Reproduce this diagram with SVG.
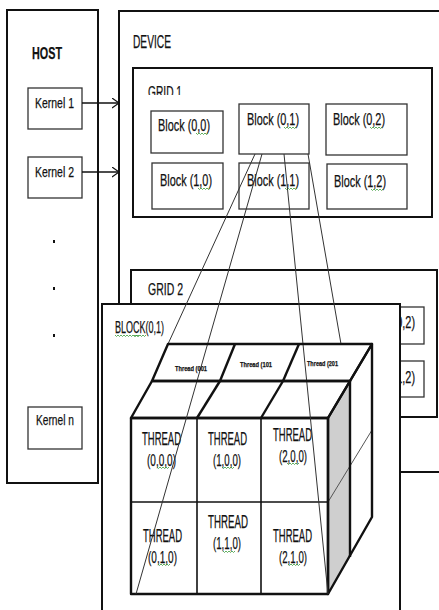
<svg xmlns="http://www.w3.org/2000/svg" width="439" height="610" viewBox="0 0 439 610">
<style>
  .box{fill:#fff;stroke:#111;stroke-width:2}
  .sub{fill:#fff;stroke:#333;stroke-width:1.3}
  .t{font-family:"Liberation Sans Narrow","Liberation Sans",Arial,sans-serif;fill:#111;stroke:#111;stroke-width:0.25}
  .thin{stroke:#333;stroke-width:1;fill:none}
  .edge{stroke:#111;stroke-width:2.4;fill:none;stroke-linejoin:round}
  .div{stroke:#111;stroke-width:1.6;fill:none}
  .sq{stroke:#3a9a3a;stroke-width:0.8;fill:none}
</style>
<defs>
  <marker id="arr" markerWidth="9" markerHeight="12" refX="7" refY="5" orient="auto" markerUnits="userSpaceOnUse">
    <path d="M0,0 L7,5 L0,10" fill="none" stroke="#111" stroke-width="1.2"/>
  </marker>
  <path id="squig" d="M0,0 l1.5,1.5 l1.5,-1.5 l1.5,1.5 l1.5,-1.5 l1.5,1.5 l1.5,-1.5 l1.5,1.5 l1.5,-1.5" class="sq"/>
  <clipPath id="g1clip"><rect x="140" y="80" width="60" height="15"/></clipPath>
</defs>

<g id="host">
  <rect class="box" x="7" y="10" width="91" height="473"/>
  <text class="t" x="32" y="59" font-size="16.5" font-weight="bold" textLength="30" lengthAdjust="spacingAndGlyphs">HOST</text>
  <g id="kernel1">
    <rect class="sub" x="28" y="88" width="54" height="41"/>
    <text class="t" x="35" y="108" font-size="15" textLength="39" lengthAdjust="spacingAndGlyphs">Kernel 1</text>
  </g>
  <g id="kernel2">
    <rect class="sub" x="28" y="157" width="54" height="41"/>
    <text class="t" x="35" y="177" font-size="15" textLength="39" lengthAdjust="spacingAndGlyphs">Kernel 2</text>
  </g>
  <g id="dots" fill="#111">
    <rect x="53" y="240" width="2" height="3"/>
    <rect x="53" y="287" width="2" height="3"/>
    <rect x="53" y="334" width="2" height="3"/>
  </g>
  <g id="kerneln">
    <rect class="sub" x="28" y="407" width="54" height="42"/>
    <text class="t" x="36" y="425" font-size="15" textLength="38" lengthAdjust="spacingAndGlyphs">Kernel n</text>
  </g>
</g>

<g id="device">
  <rect class="box" x="119" y="11" width="330" height="461"/>
  <text class="t" x="133" y="48" font-size="17.5" textLength="38" lengthAdjust="spacingAndGlyphs">DEVICE</text>
</g>

<g id="grid1">
  <rect class="box" x="133" y="68" width="299" height="149" stroke-width="2.5"/>
  <text class="t" x="148" y="98" font-size="17" textLength="34" lengthAdjust="spacingAndGlyphs" clip-path="url(#g1clip)">GRID 1</text>
  <g id="b00"><rect class="sub" x="151" y="111" width="72" height="42"/>
    <text class="t" x="158" y="131" font-size="17" textLength="52" lengthAdjust="spacingAndGlyphs">Block (0,0)</text>
    <use href="#squig" x="196" y="133"/></g>
  <g id="b01"><rect class="sub" x="239" y="104" width="70" height="50"/>
    <text class="t" x="247" y="125" font-size="17" textLength="52" lengthAdjust="spacingAndGlyphs">Block (0,1)</text>
    <use href="#squig" x="284" y="127"/></g>
  <g id="b02"><rect class="sub" x="326" y="104" width="81" height="51"/>
    <text class="t" x="333" y="125" font-size="17" textLength="52" lengthAdjust="spacingAndGlyphs">Block (0,2)</text>
    <use href="#squig" x="370" y="127"/></g>
  <g id="b10"><rect class="sub" x="152" y="163" width="71" height="46"/>
    <text class="t" x="160" y="186" font-size="17" textLength="52" lengthAdjust="spacingAndGlyphs">Block (1,0)</text>
    <use href="#squig" x="198" y="188"/></g>
  <g id="b11"><rect class="sub" x="239" y="163" width="70" height="46"/>
    <text class="t" x="247" y="186" font-size="17" textLength="52" lengthAdjust="spacingAndGlyphs">Block (1,1)</text>
    <use href="#squig" x="285" y="188"/></g>
  <g id="b12"><rect class="sub" x="327" y="164" width="80" height="45"/>
    <text class="t" x="334" y="187" font-size="17" textLength="52" lengthAdjust="spacingAndGlyphs">Block (1,2)</text>
    <use href="#squig" x="371" y="189"/></g>
</g>

<g id="grid2">
  <rect class="box" x="131" y="270" width="306" height="147" stroke-width="2.5"/>
  <text class="t" x="148" y="295" font-size="16.5" textLength="35" lengthAdjust="spacingAndGlyphs">GRID 2</text>
  <g id="g2b02"><rect class="sub" x="360" y="307" width="64" height="37"/>
    <text class="t" x="363" y="328" font-size="17" textLength="52" lengthAdjust="spacingAndGlyphs">Block (0,2)</text></g>
  <g id="g2b12"><rect class="sub" x="360" y="361" width="64" height="36"/>
    <text class="t" x="363" y="383" font-size="17" textLength="52" lengthAdjust="spacingAndGlyphs">Block (1,2)</text></g>
</g>

<g id="block01">
  <rect class="box" x="102" y="304" width="298" height="330"/>
  <text class="t" x="115" y="333" font-size="16" textLength="49" lengthAdjust="spacingAndGlyphs" stroke-width="0">BLOCK(0,1)</text>
  <use href="#squig" x="115" y="335"/>
  <use href="#squig" x="127" y="335"/>
  <use href="#squig" x="134" y="335"/>
</g>

<g id="cube">
  <g id="front-face">
    <rect x="131" y="418" width="197" height="176" fill="#fff" stroke="none"/>
    <polygon points="328,418 372,344 372,517 328,594" fill="#fff" stroke="none"/>
    <polygon points="328,418 350,381 350,557 328,594" fill="#cfcfcf" stroke="none"/>
    <line x1="328" y1="502" x2="372" y2="430" stroke="#555" stroke-width="1"/>
    <line class="div" x1="131" y1="502" x2="328" y2="502"/>
    <line class="div" x1="197" y1="418" x2="197" y2="594"/>
    <line class="div" x1="261" y1="418" x2="261" y2="594"/>
    <line class="edge" x1="350" y1="381" x2="350" y2="557"/>
    <polygon class="edge" points="328,418 372,344 372,517 328,594"/>
    <rect class="edge" x="131" y="418" width="197" height="176"/>
    <polygon class="edge" points="152,381 350,381 328,418 131,418"/>
    <line class="edge" x1="220" y1="381" x2="197" y2="418"/>
    <line class="edge" x1="283" y1="381" x2="261" y2="418"/>
  </g>
  <g id="t000"><text class="t" x="142" y="445" font-size="17.5" textLength="39" lengthAdjust="spacingAndGlyphs">THREAD</text>
    <text class="t" x="147" y="466" font-size="17" textLength="29" lengthAdjust="spacingAndGlyphs">(0,0,0)</text>
    <use href="#squig" x="157" y="467"/></g>
  <g id="t100"><text class="t" x="208" y="445" font-size="17.5" textLength="39" lengthAdjust="spacingAndGlyphs">THREAD</text>
    <text class="t" x="213" y="466" font-size="17" textLength="28" lengthAdjust="spacingAndGlyphs">(1,0,0)</text>
    <use href="#squig" x="222" y="467"/></g>
  <g id="t200"><text class="t" x="273" y="441" font-size="17.5" textLength="39" lengthAdjust="spacingAndGlyphs">THREAD</text>
    <text class="t" x="279" y="462" font-size="17" textLength="28" lengthAdjust="spacingAndGlyphs">(2,0,0)</text>
    <use href="#squig" x="287" y="463"/></g>
  <g id="t010"><text class="t" x="143" y="542" font-size="17.5" textLength="39" lengthAdjust="spacingAndGlyphs">THREAD</text>
    <text class="t" x="148" y="563" font-size="17" textLength="29" lengthAdjust="spacingAndGlyphs">(0,1,0)</text>
    <use href="#squig" x="158" y="564"/></g>
  <g id="t110"><text class="t" x="208" y="528" font-size="17.5" textLength="40" lengthAdjust="spacingAndGlyphs">THREAD</text>
    <text class="t" x="213" y="549" font-size="17" textLength="28" lengthAdjust="spacingAndGlyphs">(1,1,0)</text>
    <use href="#squig" x="223" y="551"/></g>
  <g id="t210"><text class="t" x="273" y="542" font-size="17.5" textLength="39" lengthAdjust="spacingAndGlyphs">THREAD</text>
    <text class="t" x="279" y="563" font-size="17" textLength="28" lengthAdjust="spacingAndGlyphs">(2,1,0)</text>
    <use href="#squig" x="288" y="564"/></g>
</g>

<g id="connectors">
  <line x1="82" y1="103" x2="119" y2="103" stroke="#111" stroke-width="1.3" marker-end="url(#arr)"/>
  <line x1="82" y1="172" x2="119" y2="172" stroke="#111" stroke-width="1.3" marker-end="url(#arr)"/>
  <line class="thin" x1="255" y1="154" x2="168" y2="344"/>
  <line class="thin" x1="262" y1="154" x2="136" y2="594"/>
  <line class="thin" x1="284" y1="154" x2="328" y2="594"/>
  <line class="thin" x1="308" y1="154" x2="341" y2="344"/>
</g>

<g id="cube-top">
  <polygon points="168,344 372,344 350,381 152,381" fill="#fff" class="edge"/>
  <line class="edge" x1="235" y1="344" x2="220" y2="381"/>
  <line class="edge" x1="299" y1="344" x2="283" y2="381"/>
  <text class="t" x="175" y="371" font-size="7.5" font-weight="bold" textLength="32" lengthAdjust="spacingAndGlyphs" stroke-width="0">Thread (001</text>
  <text class="t" x="240" y="367" font-size="7.5" font-weight="bold" textLength="32" lengthAdjust="spacingAndGlyphs" stroke-width="0">Thread (101</text>
  <text class="t" x="307" y="366" font-size="7.5" font-weight="bold" textLength="31" lengthAdjust="spacingAndGlyphs" stroke-width="0">Thread (201</text>
</g>
</svg>
